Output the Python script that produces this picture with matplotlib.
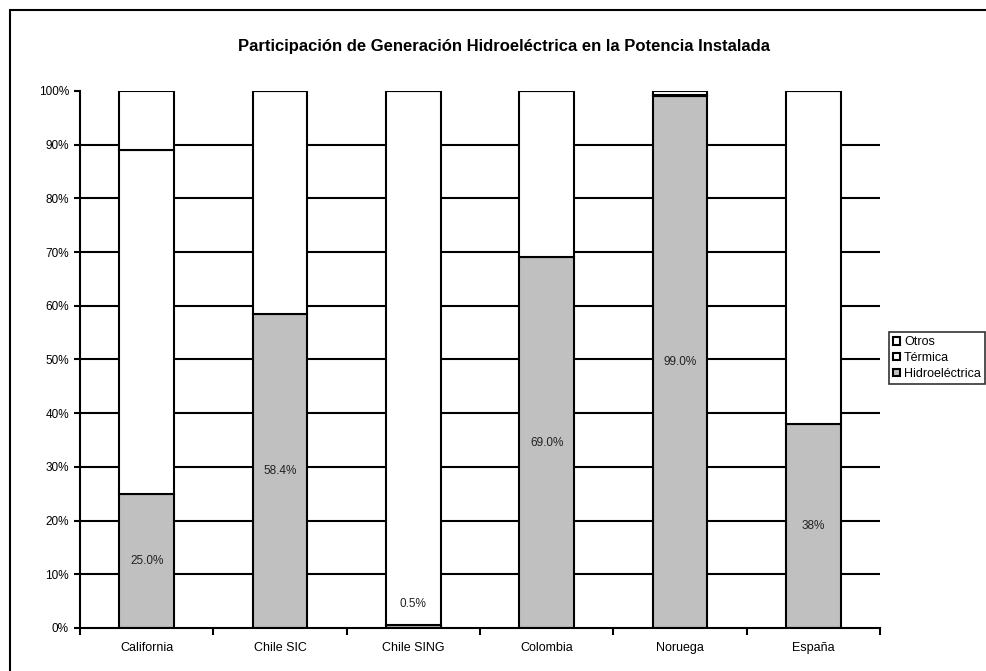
import matplotlib.pyplot as plt
from matplotlib.patches import Rectangle
from matplotlib.ticker import PercentFormatter

plt.rcParams["font.family"] = ["Liberation Sans", "DejaVu Sans"]

paises = ["California", "Chile SIC", "Chile SING", "Colombia", "Noruega", "España"]
hidro = [25.0, 58.4, 0.5, 69.0, 99.0, 38.0]
termica = [64.0, 41.6, 99.5, 31.0, 0.2, 62.0]
otros = [11.0, 0.0, 0.0, 0.0, 0.8, 0.0]
etiquetas = ["25.0%", "58.4%", "0.5%", "69.0%", "99.0%", "38%"]

gris = "#c0c0c0"

fig = plt.figure(figsize=(9.87, 6.71), dpi=100)
ax = fig.add_axes([0.0811, 0.0641, 0.8105, 0.8003])

# marco exterior del gráfico
fig.patches.append(Rectangle((10 / 987, -0.1), 1.2, 1 - 10 / 671 + 0.1,
                             transform=fig.transFigure, fill=False,
                             edgecolor="black", linewidth=1.5))

x = list(range(len(paises)))
ancho = 0.41
base2 = hidro
base3 = [h + t for h, t in zip(hidro, termica)]

for yy in range(10, 100, 10):
    ax.axhline(yy, color="black", linewidth=1.5, zorder=0)

ax.bar(x, hidro, ancho, color=gris, edgecolor="black", linewidth=1.5, label="Hidroeléctrica", zorder=2)
ax.bar(x, termica, ancho, bottom=base2, color="white", edgecolor="black", linewidth=1.5, label="Térmica", zorder=2)
ax.bar(x, otros, ancho, bottom=base3, color="white", edgecolor="black", linewidth=1.5, label="Otros", zorder=2)

for i, (h, txt) in enumerate(zip(hidro, etiquetas)):
    ypos = h / 2 if h > 5 else 4.5
    ax.text(i, ypos, txt, ha="center", va="center", fontsize=8.5, color="#222222", zorder=3)

ax.set_xlim(-0.5, len(paises) - 0.5)
ax.set_ylim(0, 100)
ax.yaxis.set_major_locator(plt.MultipleLocator(10))
ax.yaxis.set_major_formatter(PercentFormatter(decimals=0))
ax.set_xticks(x)
ax.set_xticklabels(paises)
ax.set_xticks([i - 0.5 for i in range(len(paises) + 1)], minor=True)
ax.tick_params(axis="x", which="major", length=0, pad=10, labelsize=9)
ax.tick_params(axis="x", which="minor", length=5, width=1.5, direction="out")
ax.tick_params(axis="y", length=4, width=1.5, direction="out", labelsize=8.5, pad=4)
for lado in ["top", "right"]:
    ax.spines[lado].set_visible(False)
ax.spines["left"].set_linewidth(1.5)
ax.spines["bottom"].set_linewidth(1.5)

fig.text(0.511, 0.930, "Participación de Generación Hidroeléctrica en la Potencia Instalada",
         ha="center", va="center", fontsize=12, fontweight="bold")

h, l = ax.get_legend_handles_labels()
leg = fig.legend(h[::-1], l[::-1], loc="upper left", bbox_to_anchor=(889 / 987, 1 - 332 / 671),
                 fontsize=9, frameon=True, fancybox=False, edgecolor="black",
                 handlelength=0.55, handleheight=0.55, handletextpad=0.3,
                 borderpad=0.35, labelspacing=0.3, borderaxespad=0)
leg.get_frame().set_linewidth(1.2)

fig.savefig("out.png", dpi=100)
